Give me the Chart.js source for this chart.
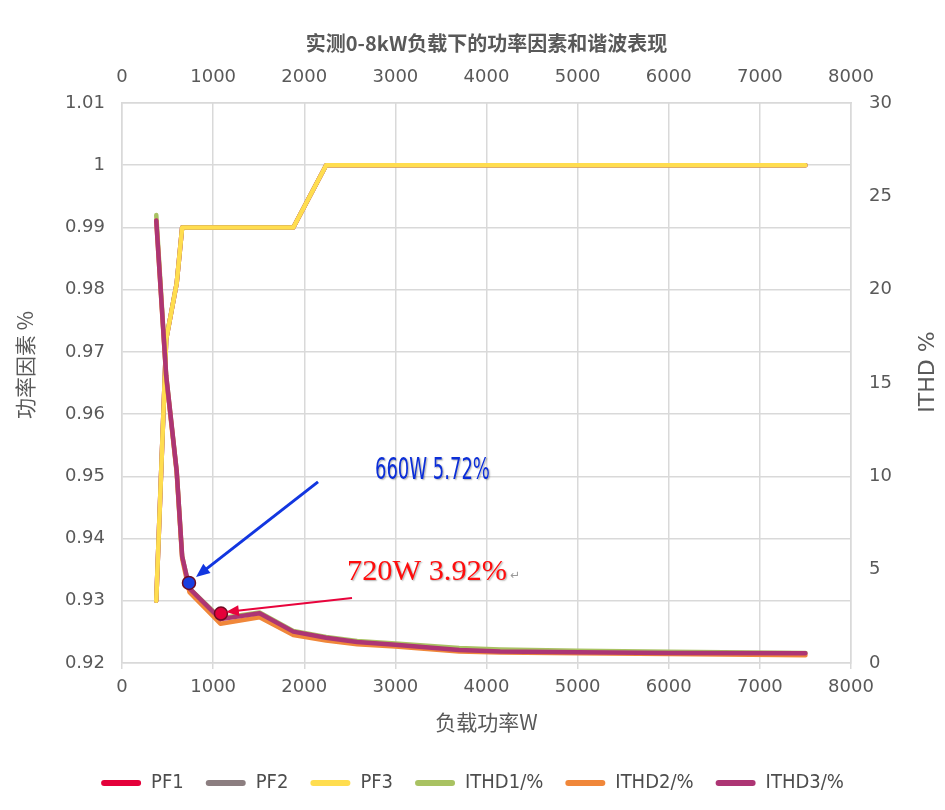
<!DOCTYPE html>
<html>
<head>
<meta charset="utf-8">
<script src="https://cdn.jsdelivr.net/npm/chart.js@4.4.0/dist/chart.umd.min.js"></script>
<style>
  html, body { margin: 0; padding: 0; background: #fff; }
</style>
</head>
<body>
<canvas id="pfChart" width="945" height="810"></canvas>
<script>
// 负载功率 (W)
const loads = [376, 485, 600, 660, 740, 1080, 1510, 1880, 2240, 2580, 3000, 3700, 4150, 5000, 6000, 7500];

// 功率因素
const pf1 = [0.930, 0.972, 0.981, 0.990, 0.990, 0.990, 0.990, 0.990, 1.000, 1.000, 1.000, 1.000, 1.000, 1.000, 1.000, 1.000];
const pf2 = [0.930, 0.972, 0.981, 0.990, 0.990, 0.990, 0.990, 0.990, 1.000, 1.000, 1.000, 1.000, 1.000, 1.000, 1.000, 1.000];
const pf3 = [0.930, 0.972, 0.981, 0.990, 0.990, 0.990, 0.990, 0.990, 1.000, 1.000, 1.000, 1.000, 1.000, 1.000, 1.000, 1.000];

// ITHD %
const ithd1 = [24.0, 15.4, 10.3, 5.72, 4.0, 2.40, 2.70, 1.72, 1.40, 1.18, 1.05, 0.80, 0.72, 0.66, 0.60, 0.54];
const ithd2 = [23.7, 15.3, 10.2, 5.60, 3.8, 2.10, 2.45, 1.50, 1.20, 1.00, 0.88, 0.62, 0.56, 0.52, 0.48, 0.42];
const ithd3 = [23.7, 15.4, 10.3, 5.72, 4.0, 2.35, 2.66, 1.68, 1.35, 1.12, 0.98, 0.70, 0.62, 0.57, 0.54, 0.52];

// 标注点
const markLoads = [735, 1086];
const markThd = [4.29, 2.65];

const xTicks = { min: 0, max: 8000, step: 1000 };
const pfTicks = { min: 0.92, max: 1.01, step: 0.01 };
const thdTicks = { min: 0, max: 30, step: 5 };

const grey = "#595959";
const gridColor = "#d9d9d9";
const tickFont = { family: "'DejaVu Sans', Verdana, sans-serif", size: 18 };
const cjk = "'Noto Sans CJK SC', 'DejaVu Sans', sans-serif";

const notes = {
  arrows: [
    { from: [2151, 9.70], to: [812, 4.61], color: "#1236e0", width: 3, head: 15 },
    { from: [2524, 3.48], to: [1141, 2.73], color: "#e8043c", width: 2, head: 14 }
  ],
  labels: [
    { text: "660W 5.72%", at: [2776, 10.29], color: "#0b2ed8", font: "30px 'DejaVu Sans Condensed', 'DejaVu Sans'", width: 115 },
    { text: "720W 3.92%", at: [2469, 4.88], color: "#ff0d0d", font: "30px 'Liberation Serif', serif", width: 160 }
  ]
};

function pts(ys) {
  return loads.map((x, i) => ({ x: x, y: ys[i] }));
}

function line(label, ys, color, axis, order) {
  return {
    label: label,
    data: pts(ys),
    yAxisID: axis,
    borderColor: color,
    backgroundColor: color,
    borderWidth: 4.5,
    borderCapStyle: "round",
    borderJoinStyle: "round",
    pointRadius: 0,
    pointHoverRadius: 0,
    tension: 0,
    order: order
  };
}

const extras = {
  id: "extras",
  afterDraw(chart) {
    const ctx = chart.ctx;
    const x = chart.scales.x;
    const y2 = chart.scales.y2;

    // axis titles, rotated like Excel
    ctx.save();
    ctx.fillStyle = grey;
    ctx.textAlign = "center";
    ctx.textBaseline = "middle";
    ctx.font = "21px " + cjk;
    ctx.translate(25, 365);
    ctx.rotate(-Math.PI / 2);
    ctx.fillText("功率因素 %", 0, 0);
    ctx.restore();

    ctx.save();
    ctx.fillStyle = grey;
    ctx.textAlign = "center";
    ctx.textBaseline = "middle";
    ctx.font = "22px 'DejaVu Sans', sans-serif";
    ctx.translate(928, 372);
    ctx.rotate(-Math.PI / 2);
    ctx.fillText("ITHD %", 0, 0);
    ctx.restore();

    // arrows
    notes.arrows.forEach(a => {
      const x0 = x.getPixelForValue(a.from[0]), yA = y2.getPixelForValue(a.from[1]);
      const x1 = x.getPixelForValue(a.to[0]), yB = y2.getPixelForValue(a.to[1]);
      const ang = Math.atan2(yB - yA, x1 - x0);
      const bx = x1 - Math.cos(ang) * a.head * 0.8;
      const by = yB - Math.sin(ang) * a.head * 0.8;
      ctx.save();
      ctx.strokeStyle = a.color;
      ctx.fillStyle = a.color;
      ctx.lineWidth = a.width;
      ctx.beginPath();
      ctx.moveTo(x0, yA);
      ctx.lineTo(bx, by);
      ctx.stroke();
      ctx.beginPath();
      ctx.moveTo(x1, yB);
      ctx.lineTo(x1 - Math.cos(ang - 0.4) * a.head, yB - Math.sin(ang - 0.4) * a.head);
      ctx.lineTo(x1 - Math.cos(ang + 0.4) * a.head, yB - Math.sin(ang + 0.4) * a.head);
      ctx.closePath();
      ctx.fill();
      ctx.restore();
    });

    // labels
    notes.labels.forEach(l => {
      const px = x.getPixelForValue(l.at[0]);
      const py = y2.getPixelForValue(l.at[1]);
      ctx.save();
      ctx.font = l.font;
      ctx.textAlign = "left";
      ctx.textBaseline = "middle";
      const w = ctx.measureText(l.text).width;
      ctx.translate(px, py);
      ctx.scale(l.width / w, 1);
      ctx.shadowColor = "rgba(0,0,0,0.3)";
      ctx.shadowOffsetX = 1.2;
      ctx.shadowOffsetY = 1.2;
      ctx.shadowBlur = 1.5;
      ctx.fillStyle = l.color;
      ctx.fillText(l.text, 0, 0);
      ctx.restore();
    });

    // small return mark after the red label
    const last = notes.labels[1];
    ctx.save();
    ctx.fillStyle = "#9a9a9a";
    ctx.font = "12px 'DejaVu Sans', sans-serif";
    ctx.textBaseline = "middle";
    ctx.fillText("↵", x.getPixelForValue(last.at[0]) + last.width + 3, y2.getPixelForValue(last.at[1]) + 4);
    ctx.restore();
  }
};

new Chart(
  document.getElementById("pfChart"),
  {
    type: "line",
    data: {
      datasets: [
        line("PF1", pf1, "#e4003a", "y", 6),
        line("PF2", pf2, "#8c7e80", "y", 5),
        line("PF3", pf3, "#ffdd4f", "y", 4),
        line("ITHD1/%", ithd1, "#a9c262", "y2", 3),
        line("ITHD2/%", ithd2, "#f0873a", "y2", 2),
        line("ITHD3/%", ithd3, "#ad3574", "y2", 1),
        {
          label: "mark",
          data: markLoads.map((v, i) => ({ x: v, y: markThd[i] })),
          yAxisID: "y2",
          showLine: false,
          pointRadius: 6.5,
          pointHoverRadius: 6.5,
          pointBackgroundColor: ["#1a3fe0", "#e4003a"],
          pointBorderColor: "#6e0b22",
          pointBorderWidth: 1.5,
          order: 0
        }
      ]
    },
    options: {
      responsive: false,
      animation: false,
      events: [],
      layout: { padding: { top: 0, left: 0, right: 0, bottom: 7 } },
      plugins: {
        tooltip: { enabled: false },
        title: { display: false },
        legend: {
          position: "bottom",
          labels: {
            color: "#4d4d4d",
            font: { family: "'DejaVu Sans Condensed', 'Liberation Sans Narrow', 'DejaVu Sans', sans-serif", size: 20 },
            boxWidth: 40,
            boxHeight: 6,
            useBorderRadius: true,
            borderRadius: 3,
            padding: 22,
            sort: (a, b) => a.datasetIndex - b.datasetIndex,
            filter: item => item.datasetIndex < 6,
            generateLabels: chart =>
              Chart.defaults.plugins.legend.labels.generateLabels(chart)
                .map(item => Object.assign(item, { lineWidth: 0 }))
          }
        }
      },
      scales: {
        x: {
          type: "linear",
          position: "bottom",
          min: xTicks.min,
          max: xTicks.max,
          ticks: { stepSize: xTicks.step, color: grey, font: tickFont, padding: 8, callback: v => String(v) },
          grid: { color: gridColor, lineWidth: 1.5, drawTicks: true, tickLength: 6 },
          border: { color: gridColor, width: 1.5 },
          title: {
            display: true,
            text: "负载功率W",
            color: grey,
            font: { family: cjk, size: 21 },
            padding: { top: 0, bottom: 16 }
          },
          afterFit: s => { s.height = 88; }
        },
        x2: {
          type: "linear",
          position: "top",
          min: xTicks.min,
          max: xTicks.max,
          ticks: { stepSize: xTicks.step, color: grey, font: tickFont, padding: 15, callback: v => String(v) },
          grid: { display: false, drawTicks: false },
          border: { color: gridColor, width: 1.5 },
          title: {
            display: true,
            text: "实测0-8kW负载下的功率因素和谐波表现",
            color: grey,
            font: { family: cjk, size: 20, weight: "bold" },
            padding: { top: 31, bottom: 0 }
          },
          afterFit: s => { s.height = 103; }
        },
        y: {
          position: "left",
          min: pfTicks.min,
          max: pfTicks.max,
          ticks: {
            stepSize: pfTicks.step,
            color: grey,
            font: tickFont,
            padding: 17,
            callback: v => +v.toFixed(2)
          },
          grid: { color: gridColor, lineWidth: 1.5, drawTicks: false },
          border: { color: gridColor, width: 1.5 },
          afterFit: s => { s.width = 122; }
        },
        y2: {
          position: "right",
          min: thdTicks.min,
          max: thdTicks.max,
          ticks: { stepSize: thdTicks.step, color: grey, font: tickFont, padding: 18 },
          grid: { display: false, drawTicks: false },
          border: { color: gridColor, width: 1.5 },
          afterFit: s => { s.width = 94; }
        }
      }
    },
    plugins: [extras]
  }
);
</script>
</body>
</html>
